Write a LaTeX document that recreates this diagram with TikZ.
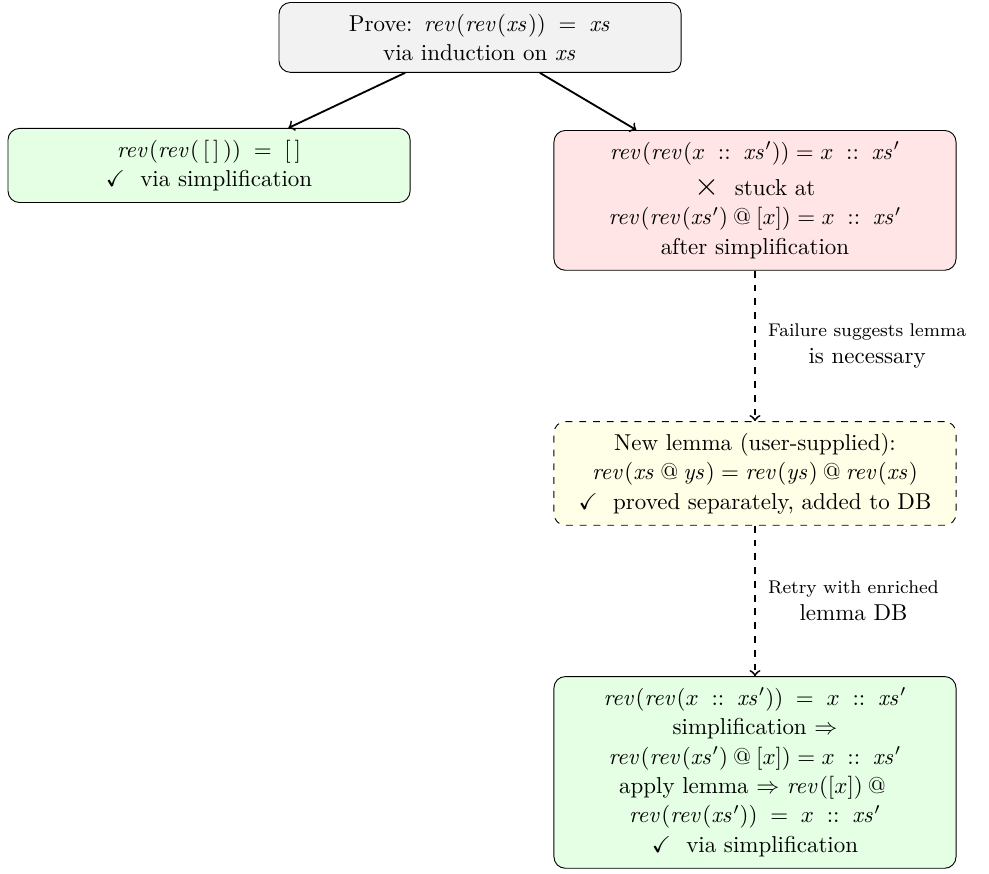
\documentclass[tikz,border=0pt]{standalone}
\usepackage{amsmath}
\usepackage{amssymb}
\usepackage{graphicx}
\usetikzlibrary{positioning}
\newcommand{\fn}[1]{\mathit{#1}}
\newcommand{\cons}{\mathrel{\;{::}\;}}
\newcommand{\app}{\mathbin{@}}
\newcommand{\fm}[1]{\mbox{$#1$}}
\newcommand{\fail}{\raisebox{0pt}{\scalebox{1.4}{$\times$}}}
\tikzstyle{proofbox} = [draw, rectangle, rounded corners=5pt, text width=5.8cm, align=center, inner sep=5pt, font=\fontsize{10pt}{12.8pt}\selectfont]
\tikzstyle{goal} = [proofbox, fill=gray!10]
\tikzstyle{proved} = [proofbox, fill=green!10]
\tikzstyle{stuck} = [proofbox, fill=red!10]
\tikzstyle{lemmabox} = [proofbox, dashed, fill=yellow!10]
\tikzstyle{split} = [->, thick]
\tikzstyle{hint} = [->, thick, dashed]
\tikzstyle{hintlabel} = [right=2pt, align=center]

\begin{document}
\begin{tikzpicture}
	\useasboundingbox (0,0) rectangle (15.13,-13.357);
	\node[goal, anchor=north](prove) at (7.344,-0.031){
		Prove: \fm{\fn{rev}(\fn{rev}(\fn{xs})) \;=\; \fn{xs}}\\
		via induction on \fm{\fn{xs}}};
	\node[proved, anchor=north](nil) at (3.198,-1.958){
		\fm{\fn{rev}(\fn{rev}(\,[\,]\,)) \;=\; [\,]}\\
		\fm{\checkmark}~ via simplification};
	\node[stuck, anchor=north](cons) at (11.55,-1.989){
		\fm{\fn{rev}(\fn{rev}(x \cons \fn{xs}')) = x \cons \fn{xs}'}\\[3pt]
		\fail~ stuck at\\
		\fm{\fn{rev}(\fn{rev}(\fn{xs}') \app [x]) = x \cons \fn{xs}'}\\
		after simplification};
	\node[lemmabox, below=2.3cm of cons](lemma){
		New lemma (user-supplied):\\
		\fm{\fn{rev}(\fn{xs} \app \fn{ys}) = \fn{rev}(\fn{ys}) \app \fn{rev}(\fn{xs})}\\
		\fm{\checkmark}~ proved separately, added to DB};
	\node[proved, below=2.3cm of lemma](retry){
		\fm{\fn{rev}(\fn{rev}(x \cons \fn{xs}')) \;=\; x \cons \fn{xs}'}\\
		simplification \fm{\Rightarrow}\\
		\fm{\fn{rev}(\fn{rev}(\fn{xs}') \app [x]) = x \cons \fn{xs}'}\\
		apply lemma \fm{\Rightarrow} \fm{\fn{rev}([x]) \app{}}\\
		\fm{\fn{rev}(\fn{rev}(\fn{xs}')) \;=\; x \cons \fn{xs}'}\\
		\fm{\checkmark}~ via simplification};
	\draw[split] (prove) -- (nil);
	\draw[split] (prove) -- (cons);
	\draw[hint] (cons) -- node[hintlabel]{\footnotesize Failure suggests lemma\\ is necessary} (lemma);
	\draw[hint] (lemma) -- node[hintlabel]{\footnotesize Retry with enriched\\ lemma DB} (retry);
\end{tikzpicture}
\end{document}
